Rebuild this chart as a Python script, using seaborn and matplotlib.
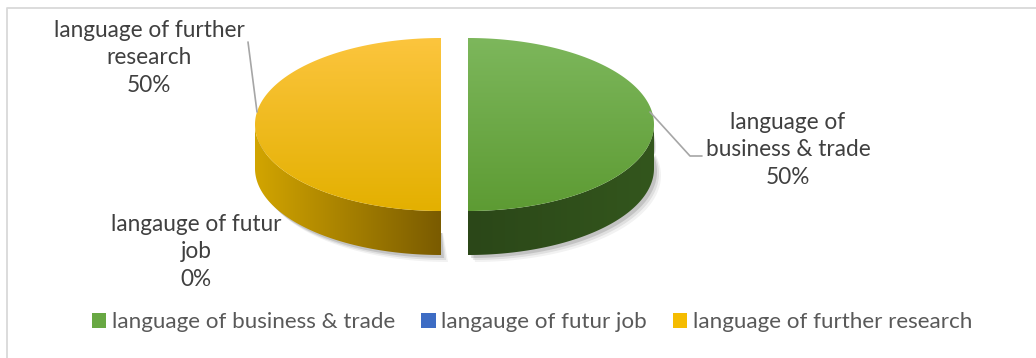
import numpy as np
import matplotlib
matplotlib.use("Agg")
import matplotlib.pyplot as plt
from matplotlib.patches import Polygon, Patch
from matplotlib.lines import Line2D
import matplotlib.colors as mcolors
import seaborn as sns

# ---- data ----
categories = ["language of business & trade", "langauge of futur job", "language of further research"]
values = [50, 0, 50]
label_texts = ["language of\nbusiness & trade\n50%", "langauge of futur\njob\n0%", "language of further\nresearch\n50%"]

top_colors = [("#7db75c", "#5d9b33"), ("#4a7bd0", "#2f5fb3"), ("#fcc53e", "#e3b000")]
side_colors = [("#2b4718", "#33561d"), ("#22427a", "#1c3766"), ("#d2a500", "#7a5b00")]
legend_colors = ["#68a843", "#3d6cc4", "#f5bc00"]

sns.set_theme(style="white")
plt.rcParams['font.family'] = ['Lato', 'DejaVu Sans']

W, H = 1036, 358
fig = plt.figure(figsize=(W / 100, H / 100), dpi=100)
ax = fig.add_axes([0, 0, 1, 1])
ax.set_xlim(0, W)
ax.set_ylim(H, 0)
ax.axis("off")

# frame
ax.plot([7, 7, W], [H, 8, 8], color="#d9d9d9", lw=1.3, solid_capstyle="butt")

# pie geometry (layout)
cx, cy, rx, ry, depth, explode = 454.5, 124.5, 186, 86.5, 44, 13.5

def rim(theta_deg, dx=0.0, dy=0.0):
    t = np.radians(theta_deg)
    return cx + dx + rx * np.sin(t), cy + dy - ry * np.cos(t)

total = float(sum(values))
cum = 0.0
slices = []
for i, v in enumerate(values):
    a0 = cum / total * 360
    a1 = (cum + v) / total * 360
    cum += v
    if v <= 0:
        continue
    mid = np.radians((a0 + a1) / 2)
    dx, dy = explode * np.sin(mid), -explode * np.cos(mid) * ry / rx
    slices.append((i, a0, a1, dx, dy))

# shadow
for (i, a0, a1, dx, dy) in slices:
    s0, s1 = max(a0, 70), min(a1, 290)
    if s1 > s0:
        th = np.linspace(s0, s1, 80)
        xs, ys = rim(th, dx, dy)
        for k, al in [(7, 0.05), (5, 0.08), (3, 0.12)]:
            poly = np.column_stack([np.r_[xs + k, xs[::-1] + k * 0.3],
                                    np.r_[ys + depth + k, ys[::-1] + depth * 0.5]])
            ax.add_patch(Polygon(poly, closed=True, fc="#000000", ec="none", alpha=al, zorder=1))

for (i, a0, a1, dx, dy) in slices:
    # side face
    s0, s1 = max(a0, 90), min(a1, 270)
    if s1 > s0:
        th = np.linspace(s0, s1, 100)
        xs, ys = rim(th, dx, dy)
        poly = np.column_stack([np.r_[xs, xs[::-1]], np.r_[ys, ys[::-1] + depth]])
        patch = Polygon(poly, closed=True, fc="none", ec="none", zorder=2)
        ax.add_patch(patch)
        cmap = mcolors.LinearSegmentedColormap.from_list("s", list(side_colors[i]))
        grad = np.linspace(0, 1, 256)[None, :]
        im = ax.imshow(grad, cmap=cmap, extent=(xs.min(), xs.max(), ys.max() + depth, ys.min()),
                       origin="upper", aspect="auto", zorder=2, interpolation="bilinear")
        im.set_clip_path(patch)
    # top face
    th = np.linspace(a0, a1, 200)
    xs, ys = rim(th, dx, dy)
    poly = np.column_stack([np.r_[cx + dx, xs], np.r_[cy + dy, ys]])
    patch = Polygon(poly, closed=True, fc="none", ec="none", zorder=3)
    ax.add_patch(patch)
    cmap = mcolors.LinearSegmentedColormap.from_list("t", list(top_colors[i]))
    grad = np.linspace(0, 1, 256)[:, None]
    im = ax.imshow(grad, cmap=cmap, extent=(xs.min() - 1, xs.max() + 1, ys.max() + 1, ys.min() - 1),
                   origin="upper", aspect="auto", zorder=3, interpolation="bilinear")
    im.set_clip_path(patch)

ax.set_xlim(0, W)
ax.set_ylim(H, 0)

# data labels
txt_kw = dict(ha="center", va="center", fontsize=16.3, color="#404040", linespacing=1.4, zorder=5)
ax.text(788, 150, label_texts[0], **txt_kw)
ax.text(196, 252, label_texts[1], **txt_kw)
ax.text(149, 58, label_texts[2], **txt_kw)
ax.add_line(Line2D([650, 690, 702], [112, 156, 156], color="#a6a6a6", lw=1.2, zorder=4))
ax.add_line(Line2D([248, 257], [42, 112], color="#a6a6a6", lw=1.2, zorder=4))

# legend
handles = [Patch(facecolor=c, edgecolor="none") for c in legend_colors]
leg = fig.legend(handles, categories, loc="center", bbox_to_anchor=(532 / W, 1 - 322 / H), ncol=3,
                 frameon=False, fontsize=16.1, handlelength=0.65, handleheight=0.65,
                 handletextpad=0.25, columnspacing=1.15)
for t in leg.get_texts():
    t.set_color("#595959")

fig.savefig("out.png", dpi=100)
